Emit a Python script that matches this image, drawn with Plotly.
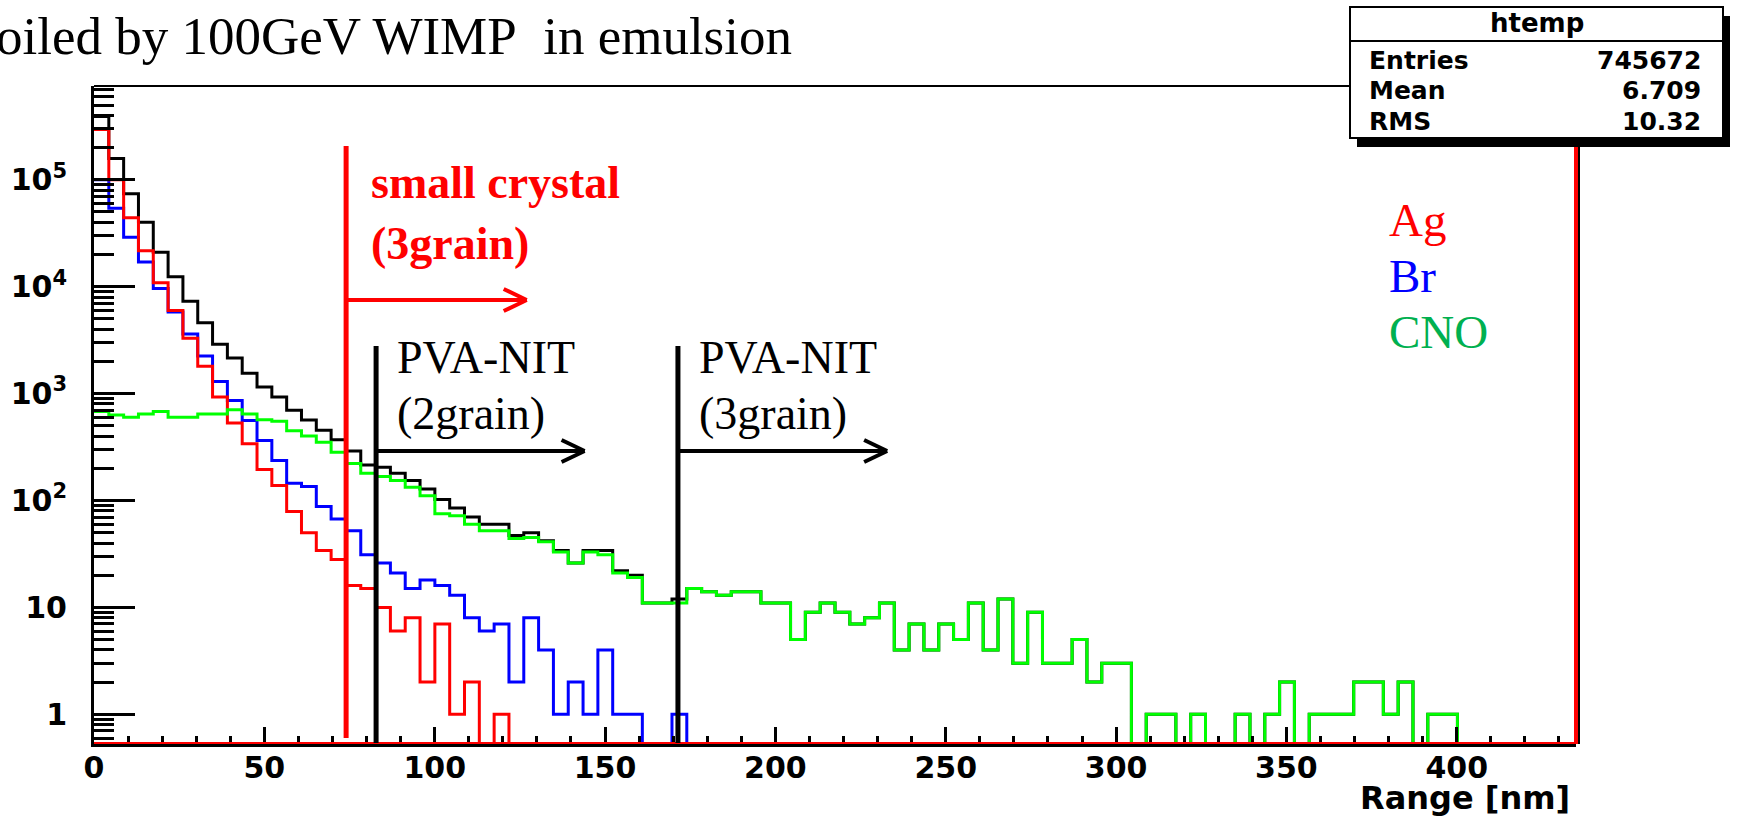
import math
import plotly.graph_objects as go

# ---------------------------------------------------------------------------
# Recoil range histograms (counts per bin), 100 bins of 4.35 nm over 0-435 nm
# ---------------------------------------------------------------------------
BIN_WIDTH = 4.35
N_BINS = 100

total_counts = [
    390000, 158000, 74000, 40000, 21000, 12400, 7300, 4600, 2900, 2150,
    1550, 1150, 930, 700, 565, 455, 370, 290, 215, 205,
    180, 154, 128, 102, 85, 70, 60, 60, 47, 50,
    42, 34, 26, 34, 34, 22, 20, 11, 11, 12,
    15, 14, 13, 14, 14, 11, 11, 5, 9, 11,
    9, 7, 8, 11, 4, 7, 4, 7, 5, 11,
    4, 12, 3, 9, 3, 3, 5, 2, 3, 3,
    0, 1, 1, 0, 1, 0, 0, 1, 0, 1,
    2, 0, 1, 1, 1, 2, 2, 1, 2, 0,
    1, 1, 0, 0, 0, 0, 0, 0, 0, 0,
]

ag_counts = [
    295000, 100000, 44000, 21700, 10900, 6000, 3300, 1800, 930, 530,
    340, 195, 138, 79, 50, 34, 28, 16, 15, 10,
    6, 8, 2, 7, 1, 2, 0, 1, 0, 0,
] + [0] * 70

br_counts = [
    100000, 54000, 29000, 17000, 9600, 5800, 3600, 2250, 1300, 860,
    560, 363, 237, 145, 135, 88, 67, 52, 31, 26,
    21, 15, 18, 16, 13, 8, 6, 7, 2, 8,
    4, 1, 2, 1, 4, 1, 1, 0, 0, 1,
] + [0] * 60

cno_counts = [
    680, 630, 600, 645, 680, 600, 600, 645, 645, 705,
    645, 570, 550, 450, 400, 350, 282, 222, 180, 168,
    154, 133, 111, 75, 72, 60, 52, 52, 44, 45,
    41, 33, 26, 33, 31, 21, 19, 11, 11, 11,
    15, 14, 13, 14, 14, 11, 11, 5, 9, 11,
    9, 7, 8, 11, 4, 7, 4, 7, 5, 11,
    4, 12, 3, 9, 3, 3, 5, 2, 3, 3,
    0, 1, 1, 0, 1, 0, 0, 1, 0, 1,
    2, 0, 1, 1, 1, 2, 2, 1, 2, 0,
    1, 1, 0, 0, 0, 0, 0, 0, 0, 0,
]

# Detection thresholds (nm) and the reach of their arrows (nm)
threshold_labels = ["small crystal", "PVA-NIT 2grain", "PVA-NIT 3grain"]
threshold_ranges = [74.0, 82.8, 171.4]
arrow_ends = [127.0, 144.0, 232.8]

# Statistics box contents
stats_title = "htemp"
stats_names = ["Entries", "Mean", "RMS"]
stats_values = ["745672", "6.709", "10.32"]

# Axis settings
X_RANGE = [0, 435]
Y_LOG_RANGE = [-0.278, 5.877]
y_tick_vals = [1, 10, 100, 1000, 10000, 100000]
y_tick_text = ["1", "10", "10<sup>2</sup>", "10<sup>3</sup>", "10<sup>4</sup>", "10<sup>5</sup>"]

# ---------------------------------------------------------------------------
W, H = 1737, 816
L, R, T, B = 94, 1576, 86, 744          # frame in pixels
FLOOR = 10 ** Y_LOG_RANGE[0]             # empty bins sit on the frame bottom


def xp(px):
    return (px - L) / (R - L)


def yp(py):
    return (B - py) / (B - T)


edges = [i * BIN_WIDTH for i in range(N_BINS + 1)]


def step_y(counts):
    vals = [c if c > 0 else FLOOR for c in counts]
    return vals + [vals[-1]]


fig = go.Figure()

series = [
    ("Total", total_counts, "#000000"),
    ("Br", br_counts, "#0000FF"),
    ("Ag", ag_counts, "#FF0000"),
    ("CNO", cno_counts, "#00FF00"),
]
for name, counts, color in series:
    fig.add_trace(go.Scatter(
        x=edges, y=step_y(counts), mode="lines", name=name,
        line=dict(color=color, width=3, shape="hv"),
        showlegend=False, hoverinfo="skip",
    ))

shapes = []

# frame: top black, right red, bottom overlaid red
shapes.append(dict(type="line", xref="paper", yref="paper", x0=0, x1=1, y0=1, y1=1,
                   line=dict(color="black", width=2)))
shapes.append(dict(type="line", xref="paper", yref="paper", x0=xp(R + 3), x1=xp(R + 3), y0=0, y1=1,
                   line=dict(color="black", width=2)))
shapes.append(dict(type="line", xref="paper", yref="paper", x0=1, x1=1, y0=0, y1=1,
                   line=dict(color="#FF0000", width=4)))
shapes.append(dict(type="line", xref="paper", yref="paper", x0=0, x1=1, y0=yp(B - 1), y1=yp(B - 1),
                   line=dict(color="#FF0000", width=2)))

# threshold markers with arrows
marker_style = [
    dict(color="#FF0000", top=146, bottom=738, arrow_y=300),
    dict(color="#000000", top=346, bottom=743, arrow_y=451),
    dict(color="#000000", top=346, bottom=743, arrow_y=451),
]
HEAD_LEN = 23 / ((R - L) / (X_RANGE[1] - X_RANGE[0]))   # arrowhead length in nm
HEAD_HALF = 11                                           # arrowhead half-height in px
for x0, x1, st in zip(threshold_ranges, arrow_ends, marker_style):
    shapes.append(dict(type="line", xref="x", yref="paper", x0=x0, x1=x0,
                       y0=yp(st["bottom"]), y1=yp(st["top"]),
                       line=dict(color=st["color"], width=5)))
    shapes.append(dict(type="line", xref="x", yref="paper", x0=x0, x1=x1,
                       y0=yp(st["arrow_y"]), y1=yp(st["arrow_y"]),
                       line=dict(color=st["color"], width=4)))
    for sgn in (-1, 1):
        shapes.append(dict(type="line", xref="x", yref="paper", x0=x1 - HEAD_LEN, x1=x1,
                           y0=yp(st["arrow_y"] + sgn * HEAD_HALF), y1=yp(st["arrow_y"]),
                           line=dict(color=st["color"], width=4)))

# statistics box with drop shadow
bx0, bx1, by0, by1 = 1350, 1723, 7, 138
shapes.append(dict(type="rect", xref="paper", yref="paper",
                   x0=xp(bx0 + 7), x1=xp(bx1 + 7), y0=yp(by1 + 9), y1=yp(by0 + 9),
                   fillcolor="black", line=dict(width=0)))
shapes.append(dict(type="rect", xref="paper", yref="paper",
                   x0=xp(bx0), x1=xp(bx1), y0=yp(by1), y1=yp(by0),
                   fillcolor="white", line=dict(color="black", width=2)))
shapes.append(dict(type="line", xref="paper", yref="paper",
                   x0=xp(bx0), x1=xp(bx1), y0=yp(41), y1=yp(41),
                   line=dict(color="black", width=2)))

annotations = []
SERIF = "Liberation Serif"
SANS = "DejaVu Sans"


def text(t, px, py, size, color="black", family=SERIF, anchor="left", bold=False):
    annotations.append(dict(
        text=f"<b>{t}</b>" if bold else t,
        x=xp(px), y=yp(py), xref="paper", yref="paper",
        xanchor=anchor, yanchor="middle", showarrow=False,
        font=dict(family=family, size=size, color=color),
    ))


# slide heading, its start runs past the left edge of the page
text("oiled by 100GeV WIMP\u00a0 in emulsion", -6, 36, 53)

text("small crystal", 369, 183, 46, color="#FF0000", bold=True)
text("(3grain)", 369, 243, 46, color="#FF0000", bold=True)
text("PVA-NIT", 395, 357, 46)
text("(2grain)", 395, 413, 46)
text("PVA-NIT", 697, 357, 46)
text("(3grain)", 697, 413, 46)

text("Ag", 1387, 220, 47, color="#FF0000")
text("Br", 1387, 276, 47, color="#0000FF")
text("CNO", 1387, 332, 47, color="#00B050")

text(stats_title, (bx0 + bx1) / 2, 23, 26, family=SANS, anchor="center", bold=True)
for name, val, row_y in zip(stats_names, stats_values, [60, 91, 122]):
    text(name, 1367, row_y, 25, family=SANS, bold=True)
    text(val, 1703, row_y, 25, family=SANS, anchor="right", bold=True)

text("Range [nm]", 1572, 798, 32, family=SANS, anchor="right", bold=True)

minor_y = [k * 10 ** d for d in range(-1, 6) for k in range(2, 10)
           if Y_LOG_RANGE[0] <= math.log10(k * 10 ** d) <= Y_LOG_RANGE[1]]

fig.update_layout(
    width=W, height=H, autosize=False,
    margin=dict(l=L, r=W - R, t=T, b=H - B, pad=0),
    paper_bgcolor="white", plot_bgcolor="white",
    shapes=shapes, annotations=annotations,
    xaxis=dict(
        range=X_RANGE, showgrid=False, zeroline=False,
        showline=True, linecolor="black", linewidth=3, mirror=False,
        tickmode="linear", tick0=0, dtick=50,
        ticks="inside", ticklen=17, tickwidth=3, tickcolor="black",
        ticklabelstandoff=-5,
        tickfont=dict(family=SANS, size=30, color="black", weight="bold"),
        minor=dict(dtick=10, tick0=0, ticks="inside", ticklen=8, tickwidth=3,
                   tickcolor="black", showgrid=False),
    ),
    yaxis=dict(
        type="log", range=Y_LOG_RANGE, showgrid=False, zeroline=False,
        showline=True, linecolor="black", linewidth=3, mirror=False,
        tickmode="array", tickvals=y_tick_vals, ticktext=y_tick_text,
        ticks="inside", ticklen=41, tickwidth=3, tickcolor="black",
        ticklabelstandoff=18,
        tickfont=dict(family=SANS, size=30, color="black", weight="bold"),
        minor=dict(tickmode="array", tickvals=minor_y, ticks="inside", ticklen=20,
                   tickwidth=3, tickcolor="black", showgrid=False),
    ),
)

fig.write_html("out.html")
